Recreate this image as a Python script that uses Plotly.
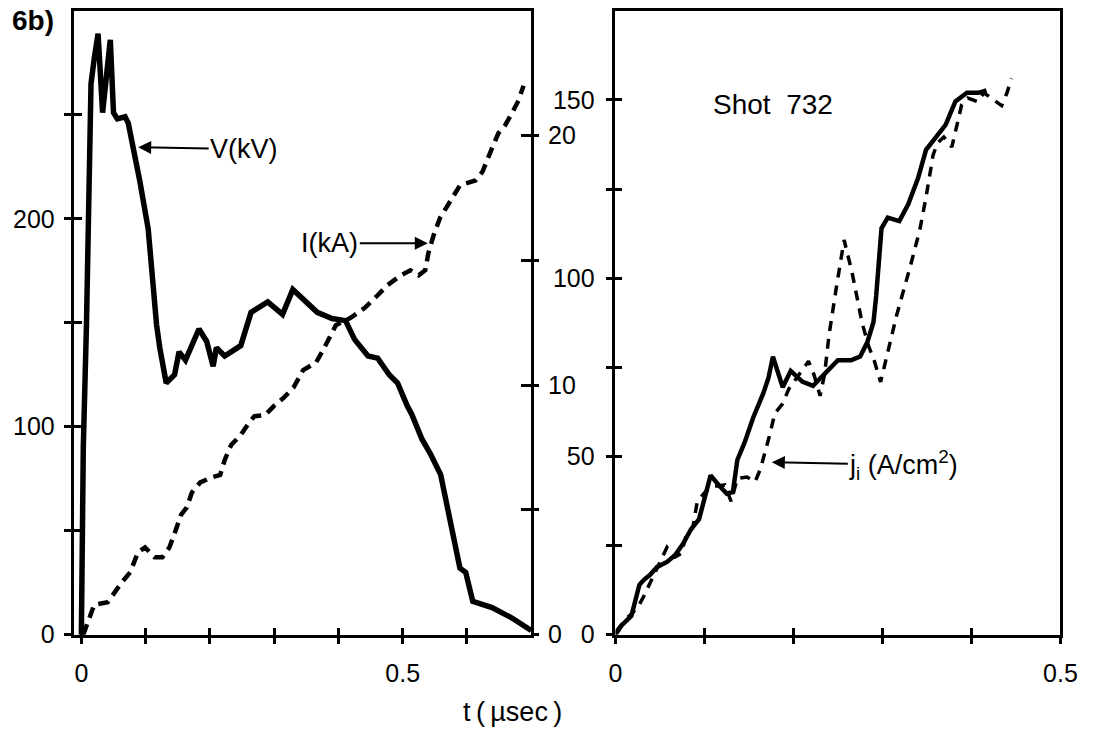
import plotly.graph_objects as go

# ---------------- data ----------------
# Left panel: voltage V (kV) and current I (kA) vs t (usec)
t_v = [0, 0.003, 0.008, 0.015, 0.020, 0.026, 0.033, 0.045, 0.050, 0.056, 0.068, 0.073,
       0.091, 0.104, 0.117, 0.122, 0.132, 0.145, 0.152, 0.162, 0.183, 0.195, 0.205, 0.210,
       0.223, 0.248, 0.264, 0.290, 0.313, 0.329, 0.367, 0.390, 0.411, 0.425, 0.446, 0.461,
       0.479, 0.492, 0.507, 0.514, 0.530, 0.543, 0.559, 0.574, 0.589, 0.598, 0.609, 0.639,
       0.670, 0.700]
v_kv = [0, 90, 150, 265, 277, 289, 251, 286, 251, 248, 249, 246,
        218, 195, 149, 138, 121, 125, 136, 132, 147, 141, 129, 138,
        134, 139, 155, 160, 154, 166, 155, 152, 151, 142, 134, 133,
        125, 121, 110, 106, 94, 87, 77, 54, 32, 30, 16, 13,
        8, 2]

t_i = [0.003, 0.015, 0.020, 0.041, 0.050, 0.063, 0.076, 0.088, 0.099, 0.114, 0.126, 0.137,
       0.147, 0.155, 0.164, 0.172, 0.185, 0.202, 0.216, 0.223, 0.233, 0.248, 0.261, 0.269,
       0.286, 0.299, 0.315, 0.330, 0.345, 0.365, 0.376, 0.396, 0.419, 0.441, 0.461, 0.476,
       0.497, 0.512, 0.525, 0.535, 0.540, 0.548, 0.558, 0.568, 0.578, 0.589, 0.601, 0.613,
       0.624, 0.632, 0.639, 0.649, 0.659, 0.670, 0.680, 0.688]
i_ka = [0.0, 0.86, 1.2, 1.3, 1.65, 2.1, 2.5, 3.3, 3.5, 3.1, 3.1, 3.5,
        4.2, 4.8, 5.1, 5.7, 6.1, 6.3, 6.4, 7.0, 7.6, 8.0, 8.5, 8.75,
        8.8, 9.15, 9.5, 9.9, 10.6, 10.9, 11.4, 12.4, 12.7, 13.1, 13.6, 14.0,
        14.4, 14.6, 14.4, 14.6, 15.3, 16.0, 16.7, 17.1, 17.5, 18.0, 18.1, 18.2,
        18.55, 19.1, 19.5, 20.1, 20.4, 20.9, 21.4, 22.0]

# Right panel: ion current density j_i (A/cm^2), solid and dashed traces
t_js = [0, 0.007, 0.018, 0.027, 0.032, 0.039, 0.047, 0.058, 0.067, 0.076, 0.085, 0.094,
        0.101, 0.107, 0.116, 0.125, 0.132, 0.137, 0.145, 0.155, 0.166, 0.172, 0.177, 0.188,
        0.197, 0.210, 0.222, 0.233, 0.250, 0.265, 0.275, 0.283, 0.290, 0.293, 0.297, 0.299,
        0.306, 0.319, 0.329, 0.340, 0.349, 0.364, 0.371, 0.382, 0.395, 0.408, 0.417]
j_solid = [0, 2.6, 5.3, 14, 15.4, 16.8, 19, 20.4, 22.3, 25.5, 29.6, 32.4,
           39, 44.7, 42, 39.6, 40, 49, 53.8, 61, 67.6, 72, 78, 69.4,
           74, 71, 69.8, 72.5, 77, 77, 78, 82, 87.7, 95, 106, 114,
           117, 116, 120.7, 128, 136, 141, 143, 149.6, 152, 152, 152.7]

t_jd = [0.001, 0.012, 0.020, 0.027, 0.032, 0.039, 0.050, 0.058, 0.067, 0.074, 0.079, 0.087,
        0.092, 0.101, 0.108, 0.123, 0.130, 0.137, 0.148, 0.157, 0.163, 0.168, 0.174, 0.179,
        0.188, 0.195, 0.217, 0.223, 0.230, 0.235, 0.240, 0.248, 0.257, 0.266, 0.277, 0.284,
        0.291, 0.298, 0.305, 0.316, 0.331, 0.342, 0.349, 0.357, 0.362, 0.369, 0.378, 0.384,
        0.389, 0.396, 0.407, 0.414, 0.425, 0.434, 0.440, 0.445]
j_dashed = [1, 4.4, 6.3, 8.5, 10.8, 14.6, 20, 24.5, 21.8, 22.8, 27.3, 30,
            37.4, 40, 41.5, 42, 37.4, 43.8, 44.2, 42.9, 46.5, 51, 56.6, 62,
            64.8, 69, 76.7, 73, 67, 73, 84, 97, 110.7, 101.5, 87.7, 81.3,
            76.7, 70.9, 78.6, 89.6, 103, 113.5, 122.7, 134.6, 137.9, 139.6, 136.8, 143,
            148.6, 150.5, 149.5, 152, 150, 148.4, 152, 156]

# tick definitions
left_x_ticks = [0, 0.1, 0.2, 0.3, 0.4, 0.5, 0.6]
left_x_text = ["0", "", "", "", "", "0.5", ""]
v_ticks = [0, 50, 100, 150, 200, 250]
v_text = ["0", "", "100", "", "200", ""]
i_ticks = [0, 5, 10, 15, 20]
i_text = ["0", "", "10", "", "20"]
right_x_ticks = [0, 0.1, 0.2, 0.3, 0.4, 0.5]
right_x_text = ["0", "", "", "", "", "0.5"]
j_ticks = [0, 25, 50, 75, 100, 125, 150]
j_text = ["0", "", "50", "", "100", "", "150"]

# ---------------- layout geometry ----------------
W, H = 1096, 735
FONT = "Liberation Sans, Arial, sans-serif"
ydom = [1 - 647 / H, 1 - 11 / H]
xdom_l = [69 / W, 536 / W]
xdom_r = [622 / W, 1077 / W]
xr_l = [-0.0107, 0.7]

fig = go.Figure()
fig.add_trace(go.Scatter(x=t_v, y=v_kv, mode="lines", xaxis="x", yaxis="y",
                         line=dict(color="black", width=5.5), showlegend=False))
fig.add_trace(go.Scatter(x=t_i, y=i_ka, mode="lines", xaxis="x", yaxis="y2",
                         line=dict(color="black", width=4.5, dash="11px,7px"), showlegend=False))
fig.add_trace(go.Scatter(x=t_js, y=j_solid, mode="lines", xaxis="x2", yaxis="y3",
                         line=dict(color="black", width=4.5), showlegend=False))
fig.add_trace(go.Scatter(x=t_jd, y=j_dashed, mode="lines", xaxis="x2", yaxis="y3",
                         line=dict(color="black", width=3.5, dash="10px,8px"), showlegend=False))
# dummy traces for the inner tick axes
for xa, ya in [("x3", "y4"), ("x3", "y5"), ("x4", "y6")]:
    fig.add_trace(go.Scatter(x=[None], y=[None], xaxis=xa, yaxis=ya,
                             showlegend=False, hoverinfo="skip"))

tickfont = dict(family=FONT, size=25, color="black")
common = dict(showgrid=False, zeroline=False, tickcolor="black", tickwidth=2.5,
              tickfont=tickfont, tickmode="array")

fig.update_layout(
    width=W, height=H, margin=dict(l=0, r=0, t=0, b=0),
    paper_bgcolor="white", plot_bgcolor="white",
    xaxis=dict(domain=xdom_l, range=xr_l, anchor="y", tickvals=left_x_ticks, ticktext=left_x_text,
               ticks="outside", ticklen=7, showline=True, linewidth=2.5, linecolor="black",
               mirror=True, ticklabelstandoff=8, **common),
    yaxis=dict(domain=ydom, range=[0, 300], anchor="x", tickvals=v_ticks, ticktext=v_text,
               ticks="outside", ticklen=8, showline=True, linewidth=2.5, linecolor="black",
               ticklabelstandoff=4, **common),
    yaxis2=dict(range=[0, 25], overlaying="y", side="right", anchor="x", tickvals=i_ticks,
                ticktext=i_text, ticks="outside", ticklen=5, showline=True, linewidth=2.5,
                linecolor="black", ticklabelstandoff=4, **common),
    xaxis3=dict(range=xr_l, overlaying="x", anchor="y", tickvals=left_x_ticks,
                ticks="inside", ticklen=7, showticklabels=False, showline=False, **common),
    yaxis4=dict(range=[0, 300], overlaying="y", anchor="x", side="left", tickvals=v_ticks,
                ticks="inside", ticklen=8, showticklabels=False, showline=False, **common),
    yaxis5=dict(range=[0, 25], overlaying="y", anchor="x", side="right", tickvals=i_ticks,
                ticks="inside", ticklen=10, showticklabels=False, showline=False, **common),
    xaxis2=dict(domain=xdom_r, range=[0, 0.5], anchor="y3", tickvals=right_x_ticks,
                ticktext=right_x_text, ticks="outside", ticklen=7, showline=True, linewidth=2.5,
                linecolor="black", mirror=True, ticklabelstandoff=8, **common),
    yaxis3=dict(domain=ydom, range=[0, 175], anchor="x2", tickvals=j_ticks, ticktext=j_text,
                ticks="outside", ticklen=7, showline=True, linewidth=2.5, linecolor="black",
                mirror=True, ticklabelstandoff=6, **common),
    xaxis4=dict(range=[0, 0.5], overlaying="x2", anchor="y3", tickvals=right_x_ticks,
                ticks="inside", ticklen=7, showticklabels=False, showline=False, **common),
    yaxis6=dict(range=[0, 175], overlaying="y3", anchor="x2", tickvals=j_ticks,
                ticks="inside", ticklen=7, showticklabels=False, showline=False, **common),
)

def px(x):
    return x / W

def py(y):
    return 1 - y / H

lab = dict(family=FONT, size=27, color="black")
ann = [
    dict(text="<b>6b)</b>", x=px(3), y=py(21), xref="paper", yref="paper", xanchor="left",
         yanchor="middle", showarrow=False, font=dict(family=FONT, size=28, color="black")),
    dict(text="Shot\u00a0 732", x=px(783), y=py(107), xref="paper", yref="paper",
         xanchor="center", yanchor="middle", showarrow=False,
         font=dict(family=FONT, size=28, color="black")),
    dict(text="t\u2009(\u2009µsec\u2009)", x=px(517), y=py(726), xref="paper", yref="paper",
         xanchor="center", yanchor="middle", showarrow=False,
         font=dict(family=FONT, size=27, color="black")),
    dict(text="V(kV)", x=0.0884, y=234.4, xref="x", yref="y", ax=106, ay=2,
         showarrow=True, arrowhead=2, arrowsize=1.3, arrowwidth=2, arrowcolor="black",
         font=lab),
    dict(text="I(kA)", x=0.539, y=15.68, xref="x", yref="y2", ax=-98, ay=0,
         showarrow=True, arrowhead=2, arrowsize=1.3, arrowwidth=2, arrowcolor="black",
         font=lab),
    dict(text="j<sub>i</sub> (A/cm<sup>2</sup>)", x=0.1758, y=48.4, xref="x2", yref="y3",
         ax=132, ay=3, showarrow=True, arrowhead=2, arrowsize=1.3, arrowwidth=2,
         arrowcolor="black", font=dict(family=FONT, size=27, color="black")),
]
fig.update_layout(annotations=ann)

fig.write_html("out.html")
